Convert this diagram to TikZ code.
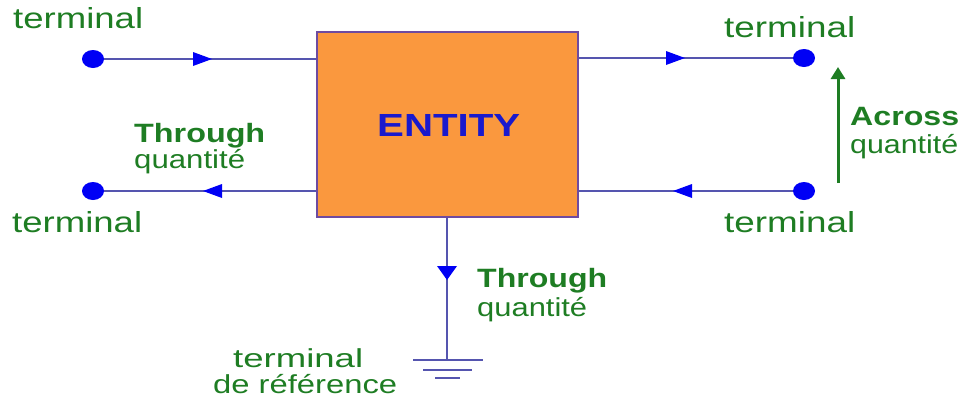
\documentclass[tikz,border=0pt]{standalone}
\usepackage{fontspec}
\setmainfont{Liberation Sans}
\usetikzlibrary{arrows.meta,shapes.geometric}
\definecolor{txtgreen}{RGB}{30,125,35}
\definecolor{wireblue}{RGB}{85,85,175}
\definecolor{tipblue}{RGB}{0,0,245}
\definecolor{boxorange}{RGB}{250,152,62}
\definecolor{boxedge}{RGB}{110,75,160}
\definecolor{entityblue}{RGB}{25,25,205}
\newcommand{\wtext}[2]{\resizebox{#1}{\height}{#2}}
\tikzset{
  wire/.style={draw=wireblue, line width=1.3pt},
  dot/.style={ellipse, fill=tipblue, minimum width=22pt, minimum height=18pt, inner sep=0pt},
  tipmark/.style={fill=tipblue},
  lbl/.style={text=txtgreen, inner sep=0pt, anchor=base west},
  regular/.style={font=\fontsize{29}{29}\selectfont},
  small/.style={font=\fontsize{26}{26}\selectfont},
  boldlbl/.style={font=\fontsize{26.5}{26.5}\selectfont\bfseries},
  across/.style={draw=txtgreen, line width=3pt, -{Triangle[length=12pt,width=14pt]}},
  entitybox/.style={rectangle, draw=boxedge, line width=1.8pt, fill=boxorange, minimum width=261pt, minimum height=185pt, inner sep=0pt}
}
\begin{document}
\begin{tikzpicture}[x=1pt,y=-1pt]
\useasboundingbox (0,0) rectangle (970,402);
% entity
\node[entitybox] (box) at (447.5,124.5) {};
\node[text=entityblue, inner sep=0pt, anchor=base west, font=\fontsize{32}{32}\selectfont\bfseries] (ent) at (377,136) {\wtext{143pt}{ENTITY}};
% terminals
\node[dot] (tl) at (93,59) {};
\node[dot] (bl) at (93,191) {};
\node[dot] (tr) at (804,58) {};
\node[dot] (br) at (804,191) {};
% wires
\draw[wire] (tl) -- (tl -| box.west);
\draw[wire] (bl) -- (bl -| box.west);
\draw[wire] (tr -| box.east) -- (tr);
\draw[wire] (br -| box.east) -- (br);
\coordinate (gnd) at (447,360);
\draw[wire] (box.south -| gnd) -- (gnd);
\draw[wire] (413,360) -- (483,360);
\draw[wire] (423,370) -- (472,370);
\draw[wire] (435,378) -- (460,378);
% arrow marks
\fill[tipmark] (212,59) -- ++(-19,-7) -- ++(0,14) -- cycle;
\fill[tipmark] (203,191) -- ++(19,-7) -- ++(0,14) -- cycle;
\fill[tipmark] (685,58) -- ++(-19,-7) -- ++(0,14) -- cycle;
\fill[tipmark] (673,191) -- ++(19,-7) -- ++(0,14) -- cycle;
\fill[tipmark] (447,280) -- ++(-10,-14) -- ++(20,0) -- cycle;
% across arrow
\coordinate (ab) at (838,183);
\coordinate (at) at (838,67);
\draw[across] (ab) -- (at);
% labels
\node[lbl, regular] (t1) at (13,28) {\wtext{130pt}{terminal}};
\node[lbl, regular] (t2) at (12,232) {\wtext{130pt}{terminal}};
\node[lbl, regular] (t3) at (724,37) {\wtext{131pt}{terminal}};
\node[lbl, regular] (t4) at (724,232) {\wtext{131pt}{terminal}};
\node[lbl, boldlbl] (th1) at (134,142) {\wtext{131pt}{Through}};
\node[lbl, small] (q1) at (134,168) {\wtext{111pt}{quantité}};
\node[lbl, boldlbl] (ac) at (850,125) {\wtext{109pt}{Across}};
\node[lbl, small] (q2) at (850,153) {\wtext{108pt}{quantité}};
\node[lbl, boldlbl] (th2) at (477,287) {\wtext{130pt}{Through}};
\node[lbl, small] (q3) at (477,316) {\wtext{110pt}{quantité}};
\node[lbl, small] (t5) at (233,367) {\wtext{130pt}{terminal}};
\node[lbl, small] (dr) at (213,393) {\wtext{184pt}{de référence}};
\end{tikzpicture}
\end{document}
